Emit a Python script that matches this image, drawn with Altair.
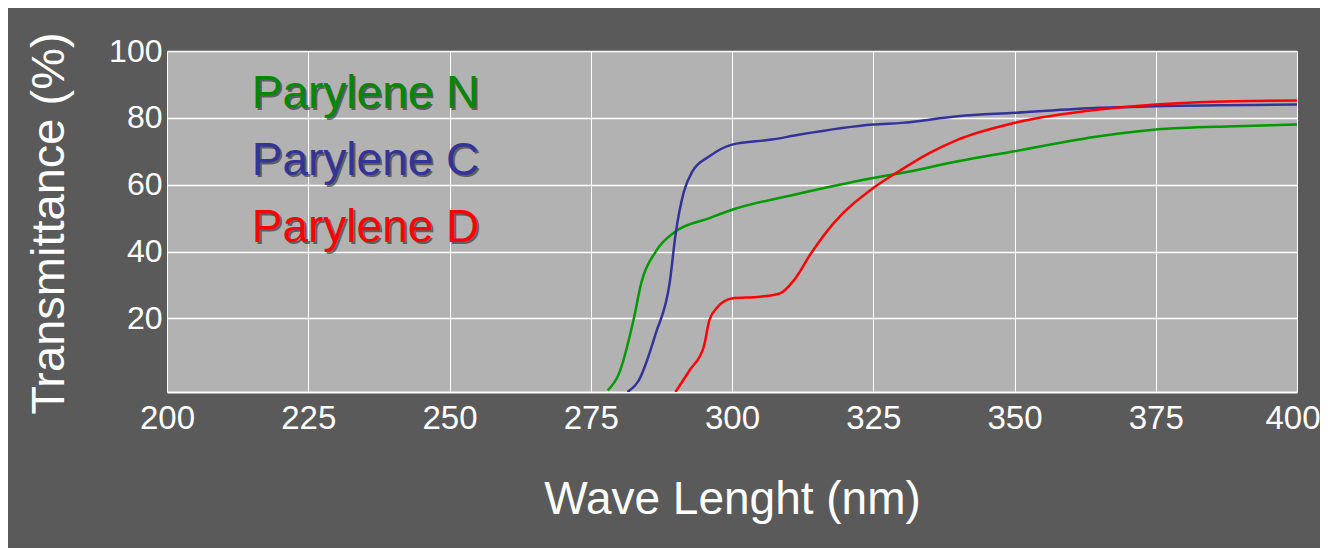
import altair as alt
import pandas as pd

# Parylene N (green)
wl_n = [278, 280, 282.5, 284, 286.5, 290, 296, 300, 311, 325, 330, 340, 350, 365, 375, 389, 400]
t_n = [-1.5, 3.5, 19, 31, 40, 46, 50, 52.5, 57, 62, 63.5, 67, 70, 74.5, 76.5, 77.5, 78]

# Parylene C (blue)
wl_c = [281.5, 283.5, 286.5, 289, 290, 291.5, 293, 296, 300, 307, 312, 325, 330, 340, 350, 365, 375, 400]
t_c = [-2, 1.5, 15.5, 31, 45, 58, 64, 68.5, 72, 73.5, 75, 78, 78.5, 80.5, 81.5, 83, 83.5, 84]

# Parylene D (red)
wl_d = [290, 292.5, 295, 296, 297.5, 300, 305, 308.5, 311, 314, 318, 325, 330, 335, 340, 350, 365, 375, 389, 400]
t_d = [-2, 4.5, 11.5, 19.5, 23.5, 26, 26.5, 27.5, 31.5, 39.5, 48.5, 59, 64.5, 69.5, 73.5, 78.5, 82.5, 84, 85, 85.2]

series_names = ["Parylene N", "Parylene C", "Parylene D"]
line_colors = ["#009900", "#333399", "#ff0000"]
text_colors = ["#008800", "#333399", "#ff0000"]

x_ticks = [200, 225, 250, 275, 300, 325, 350, 375, 400]
y_ticks = [20, 40, 60, 80, 100]

label_x = [215, 215, 215]
label_y = [83, 63, 43]

rows = []
for name, xs, ys in zip(series_names, [wl_n, wl_c, wl_d], [t_n, t_c, t_d]):
    for x, y in zip(xs, ys):
        rows.append({"series": name, "wl": x, "t": y})
df = pd.DataFrame(rows)

legend_df = pd.DataFrame({"series": series_names, "lx": label_x, "ly": label_y, "tc": text_colors})

FONT = "Liberation Sans"

x_enc = alt.X(
    "wl:Q",
    scale=alt.Scale(domain=[200, 400], nice=False, zero=False),
    axis=alt.Axis(
        values=x_ticks, title="Wave Lenght (nm)", grid=True, gridColor="white", gridWidth=1,
        gridOpacity=1, ticks=False, tickSize=0, labelPadding=10, labelFontSize=33, labelColor="white",
        labelFont=FONT, domain=True, domainColor="white", domainWidth=2, titleFont=FONT,
        titleFontSize=46, titleFontWeight="normal", titleColor="white", titleBaseline="alphabetic",
        titleY=121, labelFlush=False, labelOverlap=False,
        labelAlign={"condition": {"test": "datum.value >= 400", "value": "right"}, "value": "center"},
        labelOffset={"condition": {"test": "datum.value >= 400", "value": 23}, "value": 0},
    ),
)
y_enc = alt.Y(
    "t:Q",
    scale=alt.Scale(domain=[-2, 100], nice=False, zero=False),
    axis=alt.Axis(
        values=y_ticks, title="Transmittance (%)", grid=True, gridColor="white", gridWidth=1.6,
        gridOpacity=1, ticks=False, tickSize=0, labelPadding=5, labelFontSize=32, labelColor="white",
        labelFont=FONT, domain=False, titleFont=FONT, titleFontSize=47, titleFontWeight="normal",
        titleColor="white", titleAngle=270, titleBaseline="alphabetic", titleAlign="center",
        titleX=-104, titleY=172, labelFlush=False, labelOverlap=False,
    ),
)

lines = alt.Chart(df).mark_line(strokeWidth=2.5, interpolate="monotone", clip=True).encode(
    x=x_enc,
    y=y_enc,
    color=alt.Color("series:N", scale=alt.Scale(domain=series_names, range=line_colors), legend=None),
)

label_shadow = alt.Chart(legend_df).mark_text(
    align="left", baseline="alphabetic", fontSize=46, font=FONT, dx=2, dy=2,
    color="#1a1a1a", opacity=0.55,
).encode(
    x=alt.X("lx:Q"),
    y=alt.Y("ly:Q"),
    text="series:N",
)

labels = alt.Chart(legend_df).mark_text(
    align="left", baseline="alphabetic", fontSize=46, font=FONT
).encode(
    x=alt.X("lx:Q"),
    y=alt.Y("ly:Q"),
    text="series:N",
    color=alt.Color("tc:N", scale=None),
)

chart = (
    alt.layer(lines, label_shadow, labels)
    .properties(
        width=1130,
        height=341,
        background="#5a5a5a",
        padding={"left": 159, "top": 43, "right": 23, "bottom": 156},
        autosize=alt.AutoSizeParams(type="none"),
    )
    .configure_view(fill="#b2b2b2", stroke=None)
)

chart.save("out.html", embed_options={"renderer": "svg", "actions": False})
